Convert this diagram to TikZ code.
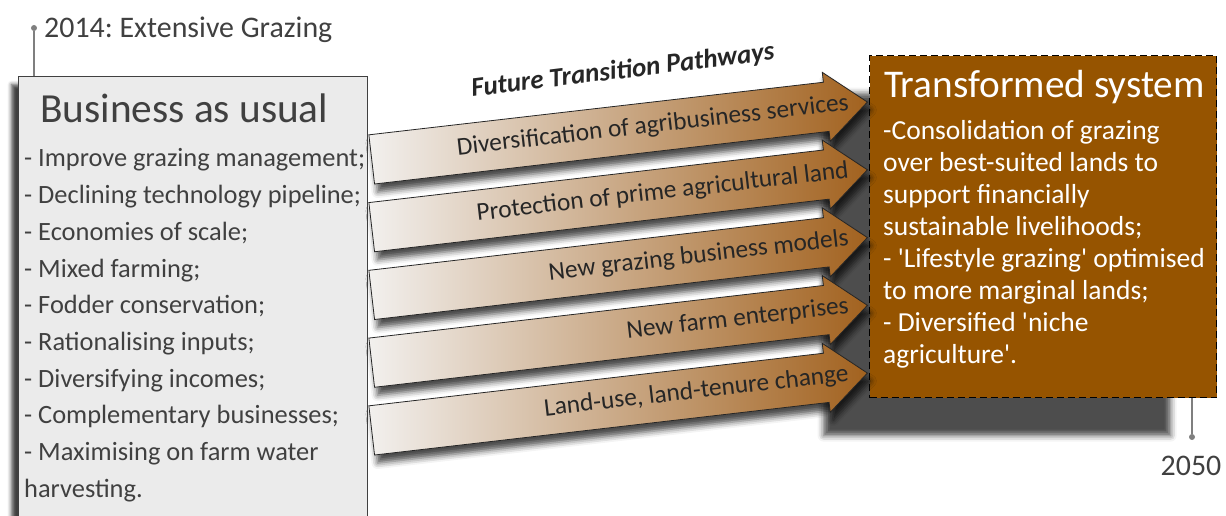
\documentclass[tikz,border=0pt]{standalone}
\usepackage{fontspec}
\setmainfont{Carlito}
\usepackage{tikz}
\usetikzlibrary{shapes.arrows, positioning, shadows.blur}

\definecolor{bauGray}{HTML}{EBEBEB}
\definecolor{tsBrown}{HTML}{965400}
\definecolor{arrL}{HTML}{F2F0EE}
\definecolor{arrM}{HTML}{D9C9B8}
\definecolor{arrR}{HTML}{A2621F}
\definecolor{txtGray}{HTML}{404040}
\definecolor{lineGray}{HTML}{7F7F7F}
\newcommand{\fs}[1]{\fontsize{#1}{#1}\selectfont}
\newcommand{\sq}{\textquotesingle}
\frenchspacing

\begin{document}
\begin{tikzpicture}[
    x=1bp, y=-1bp,
    oldbox/.style={draw=txtGray, line width=1.2bp, fill=bauGray, anchor=north west, inner sep=0pt, minimum width=349bp, minimum height=460bp, blur shadow={shadow xshift=-7bp, shadow yshift=-8bp, shadow blur radius=4bp, shadow opacity=75}},
    newbox/.style={draw=black, dash pattern=on 7bp off 4bp, line width=1.2bp, fill=tsBrown, anchor=north west, inner sep=0pt, minimum width=347bp, minimum height=342bp, blur shadow={shadow xshift=-46bp, shadow yshift=-38bp, shadow blur radius=6bp, shadow opacity=70}},
    pathway/.style={single arrow, draw=black!85, line width=0.8bp, rotate=6.6, anchor=tip, inner sep=0pt, single arrow head extend=10bp, single arrow tip angle=80, text height=30bp, text depth=18.7bp, font=\fs{25.5}, text=black!85, left color=arrL, middle color=arrM, right color=arrR, blur shadow={shadow xshift=3bp, shadow yshift=-8bp, shadow blur radius=6bp, shadow opacity=70}},
    bautext/.style={anchor=base west, inner sep=0pt, text=txtGray, font=\fs{26.5}},
    tstext/.style={anchor=base west, inner sep=0pt, text=white, font=\fs{27.6}},
    yeardot/.style={circle, fill=lineGray, inner sep=0pt, minimum size=6bp},
    timeline/.style={draw=lineGray, line width=1.5bp}
]
\useasboundingbox (0,0) rectangle (1226,516);

% boxes
\node (bau) [oldbox] at (18,76) {};
\node (ts) [newbox] at (869,55) {};

% pathways
\foreach \lbl [count=\i] in {Diversification of agribusiness services, Protection of prime agricultural land, New grazing business models, New farm enterprises, {Land-use, land-tenure change}}
    \node (pw\i) [pathway] at ([xshift=-1bp, yshift=-47bp-67.75bp*(\i-1)]ts.north west) {\makebox[468.7bp][r]{\lbl\kern-11bp}};

\node (ftp) [rotate=7, font=\fs{27}\bfseries\itshape, text=black!85] at (623,71) {Future Transition Pathways};

% business as usual
\node (bautitle) [bautext, font=\fs{41.5}] at (40,123) {Business as usual};
\foreach \entry [count=\i from 0] in {- Improve grazing management;, - Declining technology pipeline;, - Economies of scale;, - Mixed farming;, - Fodder conservation;, - Rationalising inputs;, - Diversifying incomes;, - Complementary businesses;, - Maximising on farm water, harvesting.}
    \node (bau\i) [bautext] at (24,167+36.7*\i) {\entry};

% transformed system
\node (tstitle) [tstext, font=\fs{39.4}] at (884,98) {Transformed system};
\foreach \entry [count=\i from 0] in {-Consolidation of grazing, over best-suited lands to, support financially, sustainable livelihoods;, - \sq Lifestyle grazing\sq{} optimised, to more marginal lands;, - Diversified \sq niche, agriculture\sq.}
    \node (ts\i) [tstext] at (883,140+31.9*\i) {\entry};

% time line
\node (dot14) [yeardot] at (34,28) {};
\draw [timeline] (dot14) -- (dot14 |- bau.north);
\node (yr14) [anchor=base west, inner sep=0pt, font=\fs{30}, text=txtGray] at (44,38) {2014: Extensive Grazing};
\node (dot50) [yeardot] at (1192,437) {};
\draw [timeline] (dot50 |- ts.south) -- (dot50);
\node (yr50) [anchor=base, inner sep=0pt, font=\fs{30}, text=txtGray] at (1191,475) {2050};

\end{tikzpicture}
\end{document}
